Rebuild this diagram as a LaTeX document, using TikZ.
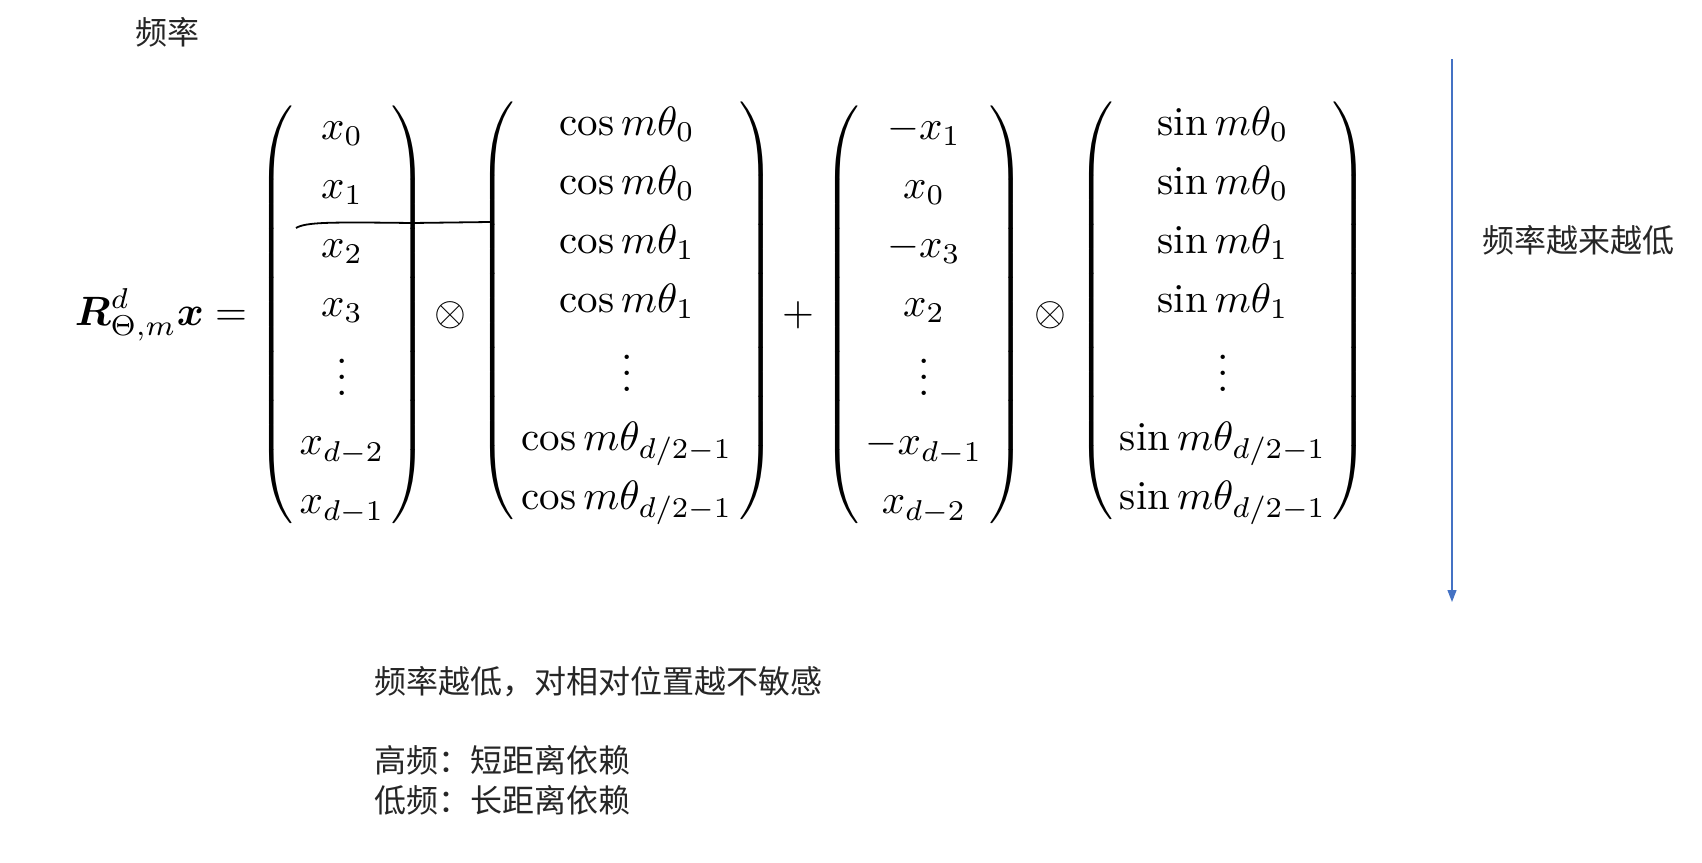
\documentclass[tikz,border=0pt]{standalone}
\usepackage{amsmath}
\usepackage{bm}
\usepackage{graphicx}
\usepackage{fontspec}
\newfontfamily\cjk{Noto Sans CJK SC}
\usetikzlibrary{arrows.meta}
\definecolor{arrowblue}{HTML}{4472C4}
\newcommand{\bigeq}[1]{\scalebox{2.05}{$\displaystyle\renewcommand{\arraystretch}{1.2}#1$}}
\newcommand{\vecmat}[1]{\left(\mkern3mu\begin{matrix}#1\end{matrix}\mkern3mu\right)}

\begin{document}
\begin{tikzpicture}[x=0.5pt,y=-0.5pt,>={Triangle[width=4.5pt,length=6pt]},
  mathnode/.style={inner sep=0pt,anchor=base},
  cjk/.style={inner sep=0pt,text=black!85,font=\cjk\fontsize{16}{20}\selectfont}]
\useasboundingbox (0,0) rectangle (1702,862);
\node   (lhs) at (161,325)  [mathnode] {\bigeq{\bm{R}^d_{\Theta,m}\bm{x}=}};
\node    (vx) at (342,325)  [mathnode] {\bigeq{\vecmat{x_0\\x_1\\x_2\\x_3\\\vdots\\x_{d-2}\\x_{d-1}}}};
\node   (ota) at (450,325)  [mathnode] {\bigeq{\otimes}};
\node   (cos) at (627,321)  [mathnode] {\bigeq{\vecmat{\cos m\theta_0\\\cos m\theta_0\\\cos m\theta_1\\\cos m\theta_1\\\vdots\\\cos m\theta_{d/2-1}\\\cos m\theta_{d/2-1}}}};
\node  (plus) at (798,325)  [mathnode] {\bigeq{+}};
\node (vswap) at (924,325)  [mathnode] {\bigeq{\vecmat{-x_1\\x_0\\-x_3\\x_2\\\vdots\\-x_{d-1}\\x_{d-2}}}};
\node   (otb) at (1050,325) [mathnode] {\bigeq{\otimes}};
\node   (sin) at (1223,321) [mathnode] {\bigeq{\vecmat{\sin m\theta_0\\\sin m\theta_0\\\sin m\theta_1\\\sin m\theta_1\\\vdots\\\sin m\theta_{d/2-1}\\\sin m\theta_{d/2-1}}}};
\coordinate (cut) at (296,228);
\coordinate (cutend) at (490,222);
\draw [line width=0.9pt] (cut) .. controls (306,222) and (330,222) .. (412,223) -- (cutend);
\coordinate (ftop) at (1452,59);
\coordinate (fbot) at (1452,602);
\draw [->,arrowblue,line width=0.6pt] (ftop) -- (fbot);
\node  (freq) at (167,32)   [cjk] {频率};
\node (trend) at (1578,240) [cjk] {频率越来越低};
\node  (note) at (374,682)  [cjk,anchor=west] {频率越低，对相对位置越不敏感};
\node    (hi) at (374,760)  [cjk,anchor=west] {高频：短距离依赖};
\node    (lo) at (374,800)  [cjk,anchor=west] {低频：长距离依赖};
\end{tikzpicture}
\end{document}
